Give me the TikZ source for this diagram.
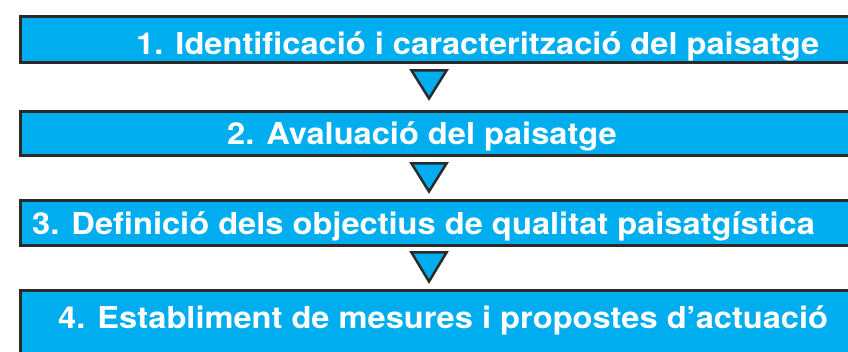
\documentclass[tikz,border=0pt]{standalone}
\usepackage{graphicx}
\usepackage{fontspec}
\setmainfont{TeX Gyre Heros}
\definecolor{barblue}{HTML}{00AEEF}
\definecolor{edgegray}{HTML}{2A2A2A}
\newcommand{\widetext}[1]{\scalebox{1.08}[1]{#1}}
\begin{document}
\begin{tikzpicture}[x=1pt,y=-1pt,
  bar/.style={draw=edgegray,line width=3pt,fill=barblue,rectangle,anchor=north west,inner sep=0pt},
  steplabel/.style={anchor=base west,inner sep=0pt,text=white,font=\bfseries\fontsize{30.2}{30}\selectfont},
  tri/.style={draw=edgegray,line width=2.5pt,fill=barblue,line join=miter}]
\useasboundingbox (0,0) rectangle (848,352);
\clip (0,0) rectangle (848,352);
\node[bar,minimum width=860pt,minimum height=46pt] (b1) at (18.5,15.5) {};
\node[bar,minimum width=860pt,minimum height=44pt] (b2) at (18.5,110.5) {};
\node[bar,minimum width=860pt,minimum height=45pt] (b3) at (18.5,199.5) {};
\node[bar,minimum width=860pt,minimum height=80pt] (b4) at (18.5,289.5) {};
\node[steplabel] (l1) at (136,55) {\widetext{1. Identificació i caracterització del paisatge}};
\node[steplabel] (l2) at (227,145) {\widetext{2. Avaluació del paisatge}};
\node[steplabel] (l3) at (32,235) {\widetext{3. Definició dels objectius de qualitat paisatgística}};
\node[steplabel] (l4) at (58,328) {\widetext{4. Establiment de mesures i propostes d’actuació}};
\coordinate (t1a) at (411.5,70.5);
\coordinate (t1b) at (446.5,70.5);
\coordinate (t1c) at (429,98.5);
\draw[tri] (t1a) -- (t1b) -- (t1c) -- cycle;
\coordinate (t2a) at (411.5,163.5);
\coordinate (t2b) at (446.5,163.5);
\coordinate (t2c) at (429,191.5);
\draw[tri] (t2a) -- (t2b) -- (t2c) -- cycle;
\coordinate (t3a) at (411.5,252.5);
\coordinate (t3b) at (446.5,252.5);
\coordinate (t3c) at (429,281.5);
\draw[tri] (t3a) -- (t3b) -- (t3c) -- cycle;
\end{tikzpicture}
\end{document}
